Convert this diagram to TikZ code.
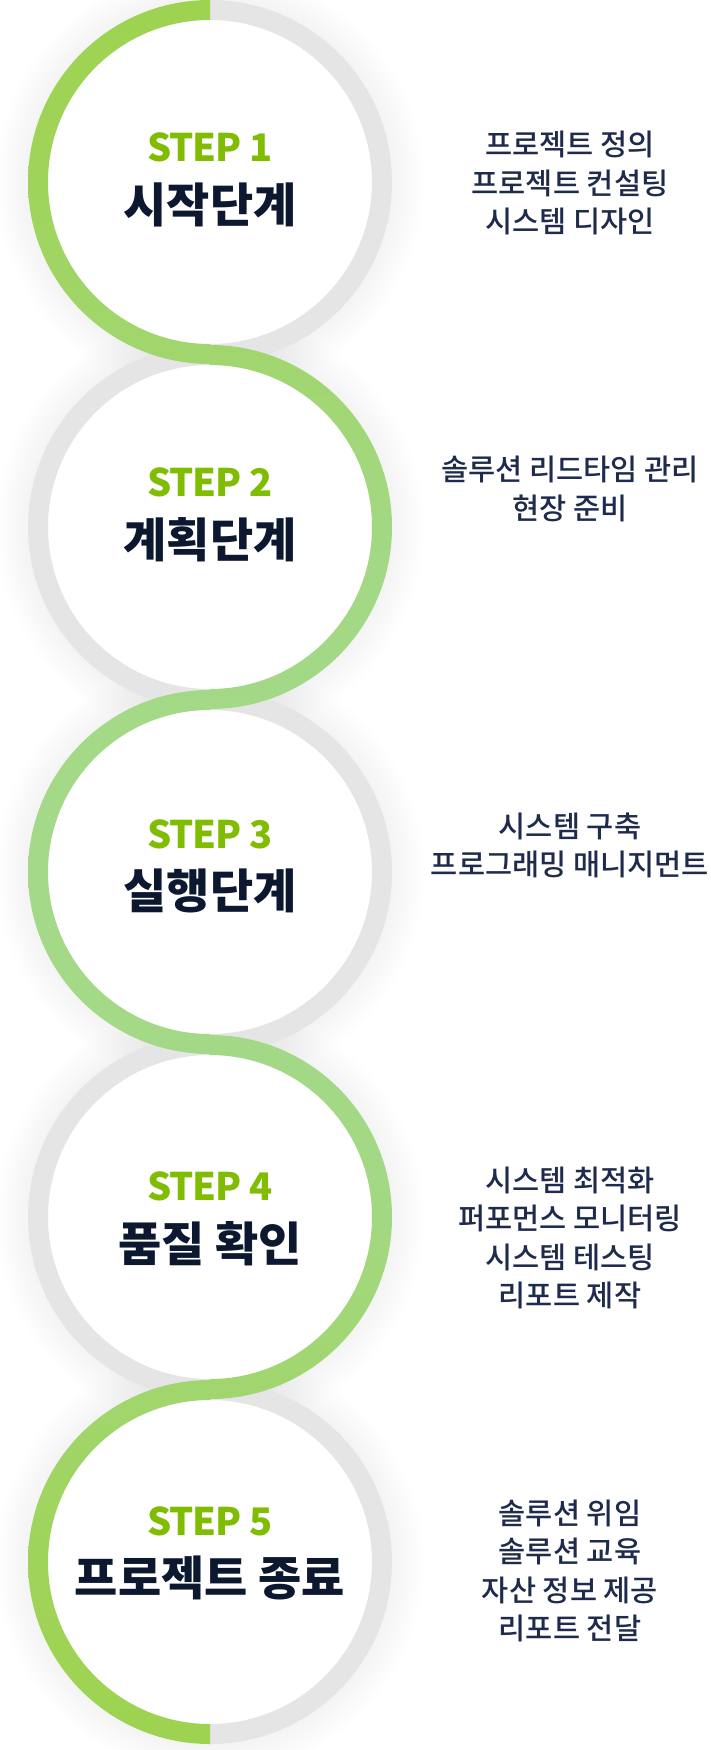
\documentclass[tikz,border=0pt]{standalone}
\usepackage{fontspec}
\setmainfont{Noto Sans CJK KR}
\newfontfamily\taskfont{Noto Sans CJK KR Medium}
\usetikzlibrary{positioning, backgrounds}
\definecolor{trackGray}  {RGB}{229,229,229}
\definecolor{stepGreen}  {RGB}{128,188,  0}
\definecolor{titleNavy}  {RGB}{ 12, 24, 48}
\definecolor{itemNavy}   {RGB}{ 31, 43, 77}
\definecolor{glowBlue}   {RGB}{140,150,190}
\definecolor{flowA}      {RGB}{141,196, 28}
\definecolor{flowB}      {RGB}{150,203, 44}
\definecolor{flowC}      {RGB}{157,209, 72}
\definecolor{flowD}      {RGB}{159,212, 90}
\definecolor{flowE}      {RGB}{163,216,131}
\definecolor{flowF}      {RGB}{164,217,138}
%% green ring colour, bottom (0bp) to top (100bp)
\pgfdeclareverticalshading{greenflow}{100bp}{
  color(0bp)=(flowA); color(10.7bp)=(flowB); color(20bp)=(flowC);
  color(30.5bp)=(flowD); color(40.3bp)=(flowE); color(50.2bp)=(flowF);
  color(60bp)=(flowE); color(69.9bp)=(flowD); color(80bp)=(flowC);
  color(89.7bp)=(flowB); color(100bp)=(flowA)}
\tikzset{
  disc/.style={             % white face of a step
    circle, fill=white, inner sep=0pt, minimum size=344pt
  },
  %% grey half of a ring
  track/.style={
    draw=trackGray, line width=20pt
  },
  glow/.style={
    fill=glowBlue, fill opacity=0.006
  },
  steplbl/.style={
    font=\fontsize{38}{38}\selectfont\bfseries\addfontfeature{LetterSpace=-3},
    text=stepGreen, inner sep=0pt
  },
  steptitle/.style={
    font=\fontsize{47}{47}\selectfont\bfseries,
    text=titleNavy, inner sep=0pt
  },
  tasklist/.style={       % task lines on the right
    align=center, font=\taskfont\fontsize{29.5}{38.5}\selectfont,
    text=itemNavy, inner sep=0pt
  }
}
\begin{document}
\begin{tikzpicture}[x=1pt, y=1pt]
\useasboundingbox (0,0) rectangle (711,-1750);

%% ═══════════════════════════════════════════════════════════
%%  STEP DISCS  (centres 345pt apart, rings touch)
%% ═══════════════════════════════════════════════════════════

\node[disc] (c1) at (210,-182)  {};
\node[disc] (c2) at (210,-527)  {};
\node[disc] (c3) at (210,-872)  {};
\node[disc] (c4) at (210,-1217) {};
\node[disc] (c5) at (210,-1562) {};

%% soft glow round the discs
\begin{scope}[on background layer]
  \fill[white] (0,0) rectangle (711,-1750);
  \foreach \c in {c1,c2,c3,c4,c5}
    \foreach \r in {184,187,...,214}
      \fill[glow] (\c.center) circle[radius=\r];
\end{scope}

%% ═══════════════════════════════════════════════════════════
%%  GREY TRACK  (the halves the green line does not take)
%% ═══════════════════════════════════════════════════════════

\draw[track] (c1.center) ++(90:172) arc[start angle=90, end angle=-90, radius=172];
\draw[track] (c2.center) ++(90:172) arc[start angle=90, end angle=270, radius=172];
\draw[track] (c3.center) ++(90:172) arc[start angle=90, end angle=-90, radius=172];
\draw[track] (c4.center) ++(90:172) arc[start angle=90, end angle=270, radius=172];
\draw[track] (c5.center) ++(90:172) arc[start angle=90, end angle=-90, radius=172];

%% ═══════════════════════════════════════════════════════════
%%  GREEN FLOW LINE  (left, right, left, right, left)
%% ═══════════════════════════════════════════════════════════

\begin{scope}
  \clip
    (c1.center) ++(90:182) arc[start angle=90, end angle=270, radius=182]
      -- ++(0,20) arc[start angle=270, end angle=90, radius=162] -- cycle
    (c2.center) ++(90:182) arc[start angle=90, end angle=-90, radius=182]
      -- ++(0,20) arc[start angle=-90, end angle=90, radius=162] -- cycle
    (c3.center) ++(90:182) arc[start angle=90, end angle=270, radius=182]
      -- ++(0,20) arc[start angle=270, end angle=90, radius=162] -- cycle
    (c4.center) ++(90:182) arc[start angle=90, end angle=-90, radius=182]
      -- ++(0,20) arc[start angle=-90, end angle=90, radius=162] -- cycle
    (c5.center) ++(90:182) arc[start angle=90, end angle=270, radius=182]
      -- ++(0,20) arc[start angle=270, end angle=90, radius=162] -- cycle;
  \shade[shading=greenflow] (0,0) rectangle (711,-1750);
\end{scope}

%% ═══════════════════════════════════════════════════════════
%%  STEP LABELS
%% ═══════════════════════════════════════════════════════════

\node[steplbl]   (step1)  at (210,-147.5)  {STEP 1};
\node[steptitle] (title1) at (210,-204.5)  {시작단계};

\node[steplbl]   (step2)  at (210,-482.5)  {STEP 2};
\node[steptitle] (title2) at (210,-539.5)  {계획단계};

\node[steplbl]   (step3)  at (210,-834)    {STEP 3};
\node[steptitle] (title3) at (210,-890.5)  {실행단계};

\node[steplbl]   (step4)  at (210,-1186.5) {STEP 4};
\node[steptitle] (title4) at (210,-1243.5) {품질 확인};

\node[steplbl]   (step5)  at (210,-1521.5) {STEP 5};
\node[steptitle] (title5) at (210,-1578)   {프로젝트 종료};

%% ═══════════════════════════════════════════════════════════
%%  TASKS  (right column)
%% ═══════════════════════════════════════════════════════════

\node[tasklist] (tasks1) at (570,-183) {
  프로젝트 정의\\
  프로젝트 컨설팅\\
  시스템 디자인
};

\node[tasklist] (tasks2) at (570,-489) {
  솔루션 리드타임 관리\\
  현장 준비
};

\node[tasklist] (tasks3) at (570,-845.5) {
  시스템 구축\\
  프로그래밍 매니지먼트
};

\node[tasklist] (tasks4) at (570,-1238) {
  시스템 최적화\\
  퍼포먼스 모니터링\\
  시스템 테스팅\\
  리포트 제작
};

\node[tasklist] (tasks5) at (570,-1571) {
  솔루션 위임\\
  솔루션 교육\\
  자산 정보 제공\\
  리포트 전달
};

\end{tikzpicture}
\end{document}
